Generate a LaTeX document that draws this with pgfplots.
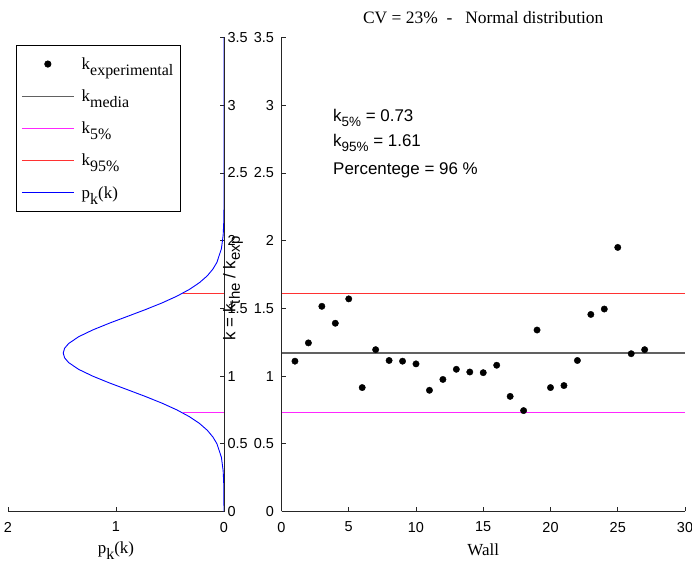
\documentclass[border=0pt]{standalone}
\usepackage{pgfplots}
\pgfplotsset{compat=1.18}
\usepackage{fontspec}
\setmainfont{Liberation Sans}
\newfontfamily\tms{Liberation Serif}
\definecolor{lred}{RGB}{255,50,50}
\definecolor{mymag}{rgb}{1,0.15,1}
\definecolor{mygray}{rgb}{0.38,0.38,0.38}
\newcommand\lsub[1]{\raisebox{-6bp}{\fontsize{16}{16}\selectfont #1}}
\newcommand\asub[1]{\raisebox{-4.5bp}{\fontsize{13.5}{14}\selectfont #1}}
\newcommand\ysub[1]{\raisebox{-4.5bp}{\fontsize{15}{15}\selectfont #1}}
\pgfplotsset{
  linelegend/.style={legend image code/.code={\draw[##1, line width=1bp] (0bp,0bp) -- (52bp,0bp); \path (57bp,0bp);}},
  dotlegend/.style={legend image code/.code={\draw[mark repeat=2,mark phase=2,##1] plot coordinates {(0bp,0bp) (26bp,0bp) (52bp,0bp)}; \path (57bp,0bp);}},
}

\pgfplotstableread{
k pdf
0.0 0.0
0.2 0.0021
0.3 0.0077
0.4 0.024
0.5 0.0654
0.55 0.1025
0.6 0.155
0.65 0.2267
0.7 0.3198
0.75 0.436
0.8 0.574
0.85 0.730
0.9 0.896
0.95 1.063
1.0 1.217
1.05 1.347
1.1 1.439
1.135 1.476
1.17 1.4886
1.205 1.476
1.24 1.439
1.29 1.347
1.34 1.217
1.39 1.063
1.44 0.896
1.49 0.730
1.54 0.574
1.59 0.436
1.64 0.320
1.69 0.227
1.74 0.155
1.79 0.1025
1.84 0.0654
1.94 0.024
2.04 0.0077
2.14 0.0021
2.25 0.0
3.5 0.0
}\pdftable

\pgfplotstableread{
wall k
1 1.11
2 1.245
3 1.515
4 1.39
5 1.57
6 0.915
7 1.195
8 1.115
9 1.11
10 1.09
11 0.895
12 0.975
13 1.05
14 1.03
15 1.025
16 1.08
17 0.85
18 0.745
19 1.34
20 0.915
21 0.93
22 1.115
23 1.455
24 1.495
25 1.95
26 1.165
27 1.195
}\walltable

\begin{document}
\begin{tikzpicture}
\useasboundingbox (0,0) rectangle (692bp,563bp);
\pgfplotsset{
  every axis/.append style={
    scale only axis, height=474bp,
    ymin=0, ymax=3.5, ytick={0,0.5,1,1.5,2,2.5,3,3.5},
    tick align=inside, major tick length=4bp,
    axis line style={black!85, line width=0.6bp},
    tick style={black!85, line width=0.6bp},
    /pgf/number format/assume math mode=true,
    tick label style={font=\fontsize{14.5}{16}\selectfont},
    xticklabel style={yshift=-7bp},
    label style={font=\tms\fontsize{17}{19}\selectfont},
  }
}
\begin{axis}[
  at={(8bp,51.5bp)}, anchor=south west,
  width=216bp,
  x dir=reverse, xmin=0, xmax=2,
  axis x line*=bottom, axis y line*=right,
  xtick={0,1,2},
  xlabel={p\lsub{k}(k)},
  xlabel style={at={(axis description cs:0.5,0)}, anchor=base, yshift=-42bp},
  ylabel={\fontsize{17}{19}\selectfont\rmfamily k = k\ysub{the} / k\ysub{exp}},
  ylabel style={at={(axis description cs:1,0.5)}, anchor=center, yshift=-9bp, xshift=-14bp},
]
\addplot[draw=blue, line width=0.9bp] table[x=pdf, y=k] {\pdftable};
\addplot[draw=lred, line width=1.8bp] coordinates {(0.38,1.61) (0,1.61)};
\addplot[draw=mymag, line width=1.1bp] coordinates {(0.38,0.73) (0,0.73)};
\end{axis}

\begin{axis}[
  at={(281.5bp,51.5bp)}, anchor=south west,
  width=403.5bp,
  xmin=0, xmax=30, xtick={0,5,...,30},
  axis x line*=bottom, axis y line*=left,
  yticklabel style={xshift=-4bp},
  xlabel={Wall},
  xlabel style={at={(axis description cs:0.5,0)}, anchor=base, yshift=-44bp},
  title={CV = 23\%\ \ -\ \ \ Normal distribution},
  title style={font=\tms\fontsize{17.5}{20}\selectfont, at={(axis description cs:0.5,1)}, anchor=base, yshift=8.5bp},
  legend style={at={(axis description cs:-0.658,0.984)}, anchor=north west,
    draw=black, line width=0.7bp, fill=white,
    font=\tms\fontsize{17}{19}\selectfont, row sep=15bp, inner xsep=5bp, inner ysep=10bp},
  legend cell align=left,
  linelegend,
]
\addplot[only marks, mark=*, mark size=3.2bp, black, dotlegend]
  table[x=wall, y=k] {\walltable};
\addlegendentry{k\lsub{experimental}}
\addplot[draw=mygray, line width=1.2bp] coordinates {(0,1.17) (30,1.17)};
\addlegendentry{k\lsub{media}}
\addplot[draw=mymag, line width=1.1bp] coordinates {(0,0.73) (30,0.73)};
\addlegendentry{k\lsub{5\%}}
\addplot[draw=lred, line width=1.8bp] coordinates {(0,1.61) (30,1.61)};
\addlegendentry{k\lsub{95\%}}
\addlegendimage{draw=blue, line width=1bp}
\addlegendentry{p\lsub{k}(k)}
\node[anchor=base west, inner sep=0pt, font=\fontsize{17}{19}\selectfont] at (axis cs:3.83,2.878) {k\asub{5\%} = 0.73};
\node[anchor=base west, inner sep=0pt, font=\fontsize{17}{19}\selectfont] at (axis cs:3.83,2.694) {k\asub{95\%} = 1.61};
\node[anchor=base west, inner sep=0pt, font=\fontsize{17}{19}\selectfont] at (axis cs:3.83,2.492) {Percentege = 96 \%};
\end{axis}
\end{tikzpicture}
\end{document}
